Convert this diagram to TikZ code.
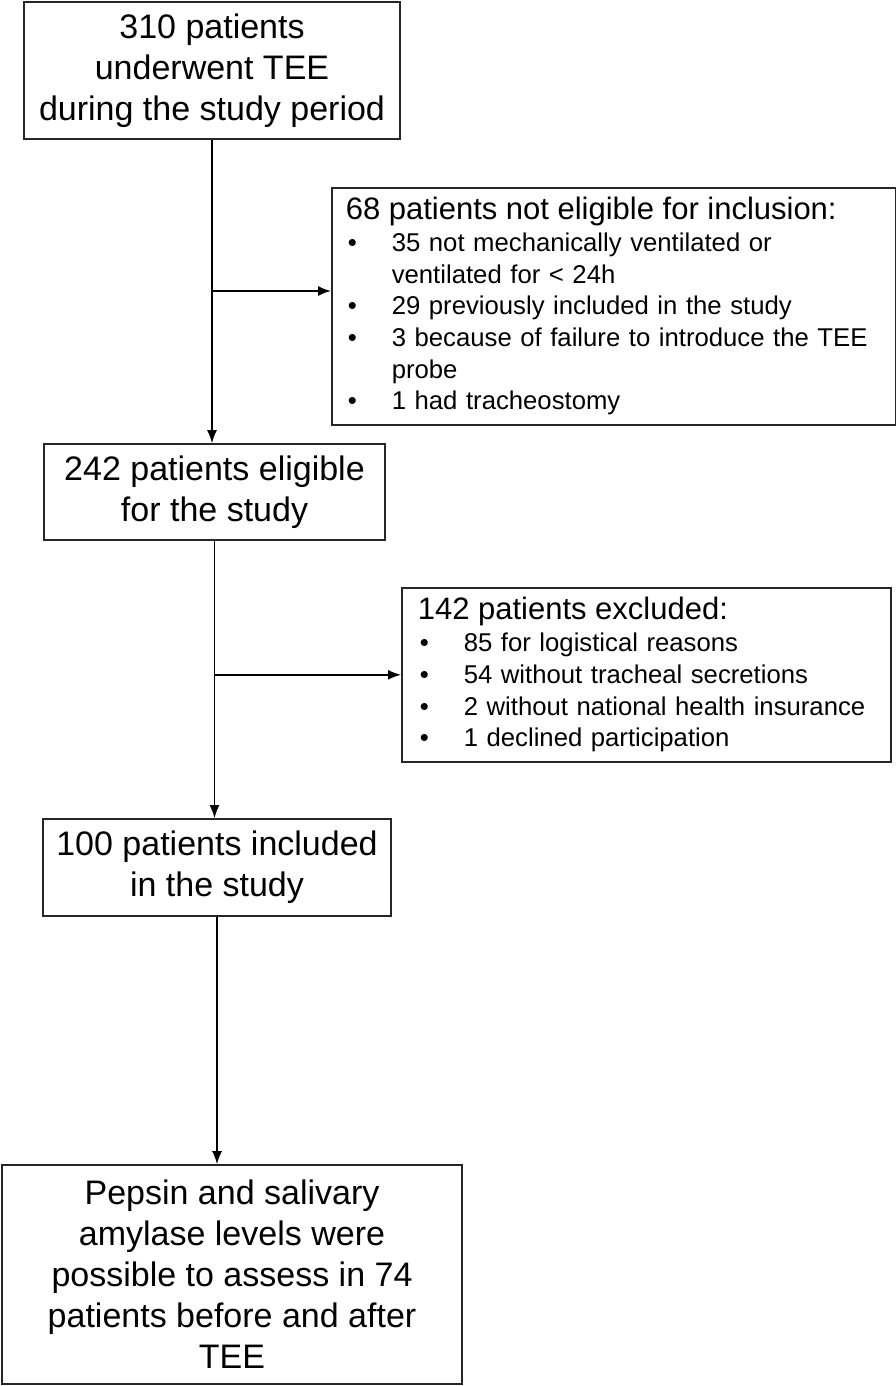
\documentclass[tikz,border=0pt]{standalone}
\usepackage{fontspec}
\setmainfont{Liberation Sans}
\usetikzlibrary{arrows.meta}
\newcommand{\flowbullet}{\hspace*{2pt}\makebox[44pt][l]{•}}
\newcommand{\flowindent}{\hspace*{46pt}}
\begin{document}
\begin{tikzpicture}[x=1pt,y=-1pt,
  mainbox/.style={draw=black!85,line width=1.6pt,align=center,inner sep=0pt,font=\fontsize{34}{41}\selectfont},
  sidebox/.style={draw=black!85,line width=1.6pt,align=left,anchor=north west,inner ysep=0pt,font=\fontsize{25.7}{31.7}\selectfont},
  flow/.style={line width=1.6pt,-{Latex[length=13pt,width=10pt]}}]
\path[use as bounding box] (0,0) rectangle (896,1386);
% main column
\node[mainbox,minimum width=376pt,minimum height=137pt] (screened) at (212,70.5) {310 patients\\underwent TEE\\during the study period};
\node[mainbox,minimum width=341pt,minimum height=96pt] (eligible) at (214.5,492) {242 patients eligible\\for the study};
\node[mainbox,minimum width=348pt,minimum height=97pt] (included) at (217,867.5) {100 patients included\\in the study};
\node[mainbox,minimum width=460pt,minimum height=219pt] (assessed) at (232,1274.5) {Pepsin and salivary\\amylase levels were\\possible to assess in 74\\patients before and after\\TEE};
% side boxes
\node[sidebox,minimum height=237pt,text width=536pt,inner xsep=14pt] (noteligible) at (331,187) {{\fontsize{31}{31.7}\selectfont 68 patients not eligible for inclusion:}\\
\flowbullet 35 not mechanically ventilated or\\
\flowindent ventilated for < 24h\\
\flowbullet 29 previously included in the study\\
\flowbullet 3 because of failure to introduce the TEE\\
\flowindent probe\\
\flowbullet 1 had tracheostomy};
\node[sidebox,minimum height=174pt,text width=457pt,inner xsep=16pt] (excluded) at (401,587) {{\fontsize{31}{31.7}\selectfont 142 patients excluded:}\\
\flowbullet 85 for logistical reasons\\
\flowbullet 54 without tracheal secretions\\
\flowbullet 2 without national health insurance\\
\flowbullet 1 declined participation};
% connectors
\coordinate (split1) at (212,291);
\draw[flow] (screened.south) -- (screened.south |- eligible.north);
\draw[flow] (split1) -- (split1 -| noteligible.west);
\draw[flow] (eligible.south) -- (eligible.south |- included.north);
\draw[flow] (excluded.west -| eligible.south) -- (excluded.west);
\draw[flow] (included.south) -- (included.south |- assessed.north);
\end{tikzpicture}
\end{document}
